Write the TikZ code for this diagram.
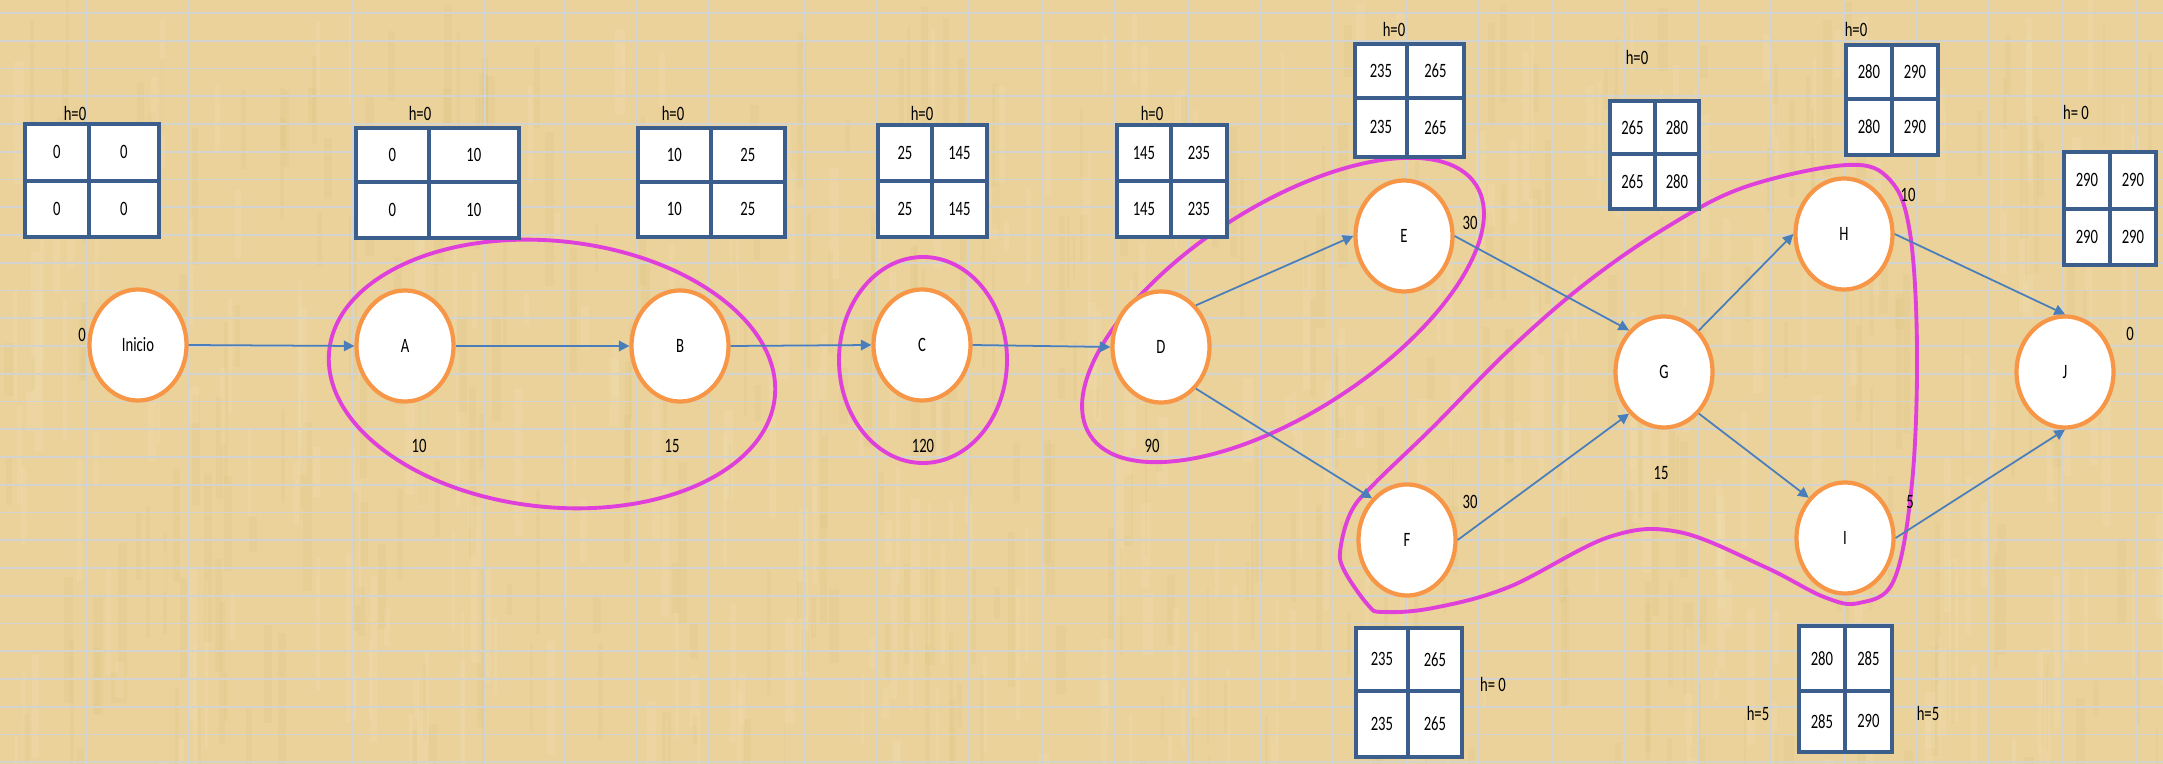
\documentclass[tikz,border=0pt]{standalone}
\usepackage{fontspec}
\setmainfont{Carlito}[FakeStretch=0.72]
\usetikzlibrary{arrows.meta,shapes.geometric}
\definecolor{Papiro}{HTML}{EAD29A}
\definecolor{FibraOscura}{HTML}{CDAE62}
\definecolor{FibraClara}{HTML}{F6E6BE}
\definecolor{Rejilla}{HTML}{D3D3D0}
\definecolor{Marco}{HTML}{3B5E8C}
\definecolor{Naranja}{HTML}{F79646}
\definecolor{Flecha}{HTML}{4A7EBB}
\definecolor{Lazo}{HTML}{DF3FDA}
\tikzset{
  nodo/.style={ellipse, draw=Naranja, line width=1.2pt, fill=white, minimum width=0.97cm, minimum height=1.11cm, inner sep=0pt, font=\fontsize{5.8}{6.5}\selectfont},
  celda/.style={rectangle, draw=Marco, line width=1.1pt, fill=white, anchor=north west, inner sep=0pt, font=\fontsize{5.8}{6.5}\selectfont},
  etiqueta/.style={inner sep=0pt, font=\fontsize{5.8}{6.5}\selectfont},
  flecha/.style={-{Triangle[length=3pt,width=3pt]}, draw=Flecha, line width=0.5pt},
  ruta/.style={draw=Lazo, line width=1.1pt},
  rejilla/.style={draw=Rejilla, line width=0.45pt}
}

\begin{document}
\begin{tikzpicture}[x=0.01cm, y=-0.01cm]
\useasboundingbox (0,0) rectangle (2163,764);

% fondo de papiro con fibras
\fill[Papiro] (0,0) rectangle (2163,764);
\pgfmathsetseed{4}
\foreach \k in {1,...,320}{
  \pgfmathsetmacro{\fx}{rnd*2163}
  \pgfmathsetmacro{\fy}{rnd*764}
  \pgfmathsetmacro{\fw}{2+rnd*8}
  \pgfmathsetmacro{\fh}{30+rnd*140}
  \fill[FibraOscura, opacity=0.09] (\fx,\fy) rectangle ++(\fw,\fh);
  \pgfmathsetmacro{\fx}{rnd*2163}
  \pgfmathsetmacro{\fy}{rnd*764}
  \fill[FibraClara, opacity=0.18] (\fx,\fy) rectangle ++(\fw,\fh);
}

% lineas de la hoja de calculo
\foreach \k in {0,...,27} \draw[rejilla] (0,13+27.75*\k) -- (2163,13+27.75*\k);
\foreach \x in {87,188,352,485,564,637,709,804,876,969,1042,1115,1188,1260,1333,1406,1479,1552,1625,1698,1771,1844,1916,1989,2062,2136}
  \draw[rejilla] (\x,0) -- (\x,764);

% rutas criticas
\draw[ruta, rotate around={-6:(552,374)}] (552,374) ellipse [x radius=224, y radius=133];
\draw[ruta] (923,360) ellipse [x radius=84, y radius=103];
\draw[ruta, rotate around={33:(1283,310)}] (1283,310) ellipse [x radius=230, y radius=103];
\draw[ruta] plot[smooth cycle, tension=0.6] coordinates {
  (1368,605) (1343,568) (1341,545) (1352,510) (1375,483) (1433,427) (1509,350)
  (1586,283) (1667,227) (1745,187) (1847,165) (1890,180) (1910,233) (1917,350)
  (1912,483) (1894,580) (1859,603) (1824,597) (1765,567) (1679,532) (1609,537)
  (1509,587) (1433,608) (1383,612)};

% actividades
\node[nodo] (inicio) at (138,345) {Inicio};
\node[nodo] (A) at (405,346) {A};
\node[nodo] (B) at (680,346) {B};
\node[nodo] (C) at (922,345) {C};
\node[nodo] (D) at (1161,347) {D};
\node[nodo] (E) at (1404,236) {E};
\node[nodo] (F) at (1407,540) {F};
\node[nodo] (G) at (1664,372) {G};
\node[nodo] (H) at (1844,234) {H};
\node[nodo] (I) at (1845,538) {I};
\node[nodo] (J) at (2065,372) {J};

\draw[flecha] (inicio.east) -- (A.west);
\draw[flecha] (A.east) -- (B.west);
\draw[flecha] (B.east) -- (C.west);
\draw[flecha] (C.east) -- (D.west);
\draw[flecha] (D.50) -- (E.west);
\draw[flecha] (D.-50) -- (F.130);
\draw[flecha] (E.east) -- (G.130);
\draw[flecha] (F.east) -- (G.-130);
\draw[flecha] (G.50) -- (H.west);
\draw[flecha] (G.-50) -- (I.132);
\draw[flecha] (H.east) -- (J.north);
\draw[flecha] (I.east) -- (J.south);

% duraciones
\foreach \n/\x/\y/\t in {d0/82/335/0, dA/419/446/10, dB/672/446/15, dC/923/446/120, dD/1152/446/90,
  dE/1470/223/30, dF/1470/502/30, dG/1661/473/15, dH/1908/195/10, dI/1910/502/5, dJ/2130/334/0}
  \node[etiqueta] (\n) at (\x,\y) {\t};

% tablas de tiempos (inicio y fin, temprano y tardio)
\foreach \n/\xa/\ya/\xm/\ym/\xb/\yb/\ua/\ub/\uc/\ud in {
  ini/23/122/87/179/157/235/0/0/0/0,
  a/354/126/427/180/517/236/0/10/0/10,
  b/636/126/709/180/783/235/10/25/10/25,
  c/876/123/930/179/985/235/25/145/25/145,
  d/1115/123/1169/179/1225/235/145/235/145/235,
  e/1353/42/1405/96/1462/155/235/265/235/265,
  g/1608/99/1653/152/1697/207/265/280/265/280,
  h/1844/43/1890/97/1936/153/280/290/280/290,
  j/2062/150/2108/207/2154/263/290/290/290/290,
  f/1354/626/1406/689/1460/755/235/265/235/265,
  i/1797/624/1843/689/1890/750/280/285/285/290}{
  \node[celda, minimum width={(\xm-\xa)*0.01cm}, minimum height={(\ym-\ya)*0.01cm}] (t\n-1) at (\xa,\ya) {\ua};
  \node[celda, minimum width={(\xb-\xm)*0.01cm}, minimum height={(\ym-\ya)*0.01cm}] (t\n-2) at (\xm,\ya) {\ub};
  \node[celda, minimum width={(\xm-\xa)*0.01cm}, minimum height={(\yb-\ym)*0.01cm}] (t\n-3) at (\xa,\ym) {\uc};
  \node[celda, minimum width={(\xb-\xm)*0.01cm}, minimum height={(\yb-\ym)*0.01cm}] (t\n-4) at (\xm,\ym) {\ud};
}

% holguras
\foreach \n/\x/\y/\t in {hini/75/113/h=0, ha/420/113/h=0, hb/673/113/h=0, hc/922/113/h=0, hd/1152/113/h=0,
  he/1394/29/h=0, hg/1637/57/h=0, hh/1856/29/h=0, hj/2076/112/h= 0, hf/1493/684/h= 0,
  hi/1758/713/h=5, hi2/1928/713/h=5}
  \node[etiqueta] (\n) at (\x,\y) {\t};
\end{tikzpicture}
\end{document}
